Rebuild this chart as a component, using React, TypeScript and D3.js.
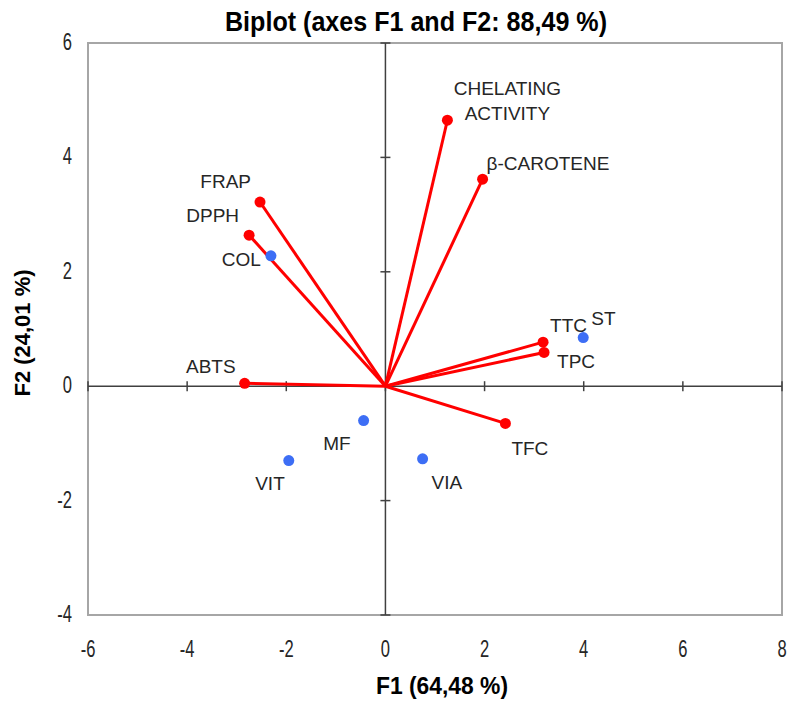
import React from "react";
import * as d3 from "d3";

// Active variables (loadings, drawn as vectors from the origin)
const variableNames = ["CHELATING ACTIVITY", "β-CAROTENE", "FRAP", "DPPH", "ABTS", "TTC", "TPC", "TFC"];
const variableF1 = [1.25, 1.96, -2.53, -2.75, -2.84, 3.18, 3.20, 2.42];
const variableF2 = [4.65, 3.62, 3.22, 2.64, 0.05, 0.77, 0.59, -0.65];

// Observations (scores, drawn as points)
const observationNames = ["COL", "ST", "MF", "VIT", "VIA"];
const observationF1 = [-2.31, 3.99, -0.44, -1.95, 0.75];
const observationF2 = [2.28, 0.85, -0.60, -1.30, -1.27];

const xTicks = [-6, -4, -2, 0, 2, 4, 6, 8];
const yTicks = [-4, -2, 0, 2, 4, 6];

// Label placement relative to each marker (px)
const labelPlacement: Record<string, { dx: number; dy: number; anchor: string }> = {
  "CHELATING ACTIVITY": { dx: 60, dy: 0, anchor: "middle" },
  "β-CAROTENE": { dx: 4, dy: -9, anchor: "start" },
  FRAP: { dx: -9, dy: -14, anchor: "end" },
  DPPH: { dx: -10, dy: -13, anchor: "end" },
  ABTS: { dx: -9, dy: -10, anchor: "end" },
  TTC: { dx: 7, dy: -10, anchor: "start" },
  TPC: { dx: 13, dy: 16, anchor: "start" },
  TFC: { dx: 6, dy: 32, anchor: "start" },
  COL: { dx: -10, dy: 10, anchor: "end" },
  ST: { dx: 8, dy: -13, anchor: "start" },
  MF: { dx: -13, dy: 29, anchor: "end" },
  VIT: { dx: -4, dy: 29, anchor: "end" },
  VIA: { dx: 9, dy: 30, anchor: "start" },
};

const W = 790;
const H = 702;
const left = 88;
const right = 782;
const top = 43;
const bottom = 615;

const x = d3.scaleLinear().domain([-6, 8]).range([left, right]);
const y = d3.scaleLinear().domain([-4, 6]).range([bottom, top]);

const RED = "#ff0000";
const BLUE = "#3d6ef5";
const TEXT = "#262626";
const FONT = "'Liberation Sans', Arial, sans-serif";

function Label({ name, px, py }: { name: string; px: number; py: number }) {
  const p = labelPlacement[name];
  const lines = name === "CHELATING ACTIVITY" ? ["CHELATING", "ACTIVITY"] : [name];
  return (
    <text
      x={px + p.dx}
      y={py + p.dy}
      textAnchor={p.anchor}
      fontFamily={FONT}
      fontSize={19}
      fill={TEXT}
    >
      {lines.map((l, i) => (
        <tspan key={l} x={px + p.dx} dy={i === 0 ? -(lines.length - 1) * 25 : 25}>
          {l}
        </tspan>
      ))}
    </text>
  );
}

export default function App() {
  const x0 = x(0);
  const y0 = y(0);
  const vars = variableNames.map((n, i) => ({ name: n, f1: variableF1[i], f2: variableF2[i] }));
  const obs = observationNames.map((n, i) => ({ name: n, f1: observationF1[i], f2: observationF2[i] }));

  return (
    <svg
      width={W}
      height={H}
      viewBox={`0 0 ${W} ${H}`}
      style={{ position: "absolute", left: 0, top: 0, background: "#fff" }}
    >
      {/* title */}
      <text
        x={416}
        y={31}
        textAnchor="middle"
        fontFamily={FONT}
        fontWeight="bold"
        fontSize={27}
        textLength={382}
        lengthAdjust="spacingAndGlyphs"
        fill="#000"
      >
        Biplot (axes F1 and F2: 88,49 %)
      </text>

      {/* plot frame */}
      <rect
        x={left}
        y={top}
        width={right - left}
        height={bottom - top}
        fill="none"
        stroke="#a6a6a6"
        strokeWidth={2}
      />

      {/* zero axes with tick marks */}
      <line x1={left} x2={right} y1={y0} y2={y0} stroke="#404040" strokeWidth={1.5} />
      <line x1={x0} x2={x0} y1={top} y2={bottom} stroke="#404040" strokeWidth={1.5} />
      {xTicks.map((t) => (
        <line key={"xt" + t} x1={x(t)} x2={x(t)} y1={y0 - 5} y2={y0 + 5} stroke="#404040" strokeWidth={1.5} />
      ))}
      {yTicks.map((t) => (
        <line key={"yt" + t} x1={x0 - 5} x2={x0 + 5} y1={y(t)} y2={y(t)} stroke="#404040" strokeWidth={1.5} />
      ))}

      {/* tick labels */}
      {xTicks.map((t) => (
        <g key={"xl" + t} transform={`translate(${x(t)},${bottom + 42}) scale(0.72,1)`}>
          <text textAnchor="middle" fontFamily={FONT} fontSize={23} fill={TEXT}>
            {t}
          </text>
        </g>
      ))}
      {yTicks.map((t) => (
        <g key={"yl" + t} transform={`translate(72,${y(t) + 7}) scale(0.72,1)`}>
          <text textAnchor="end" fontFamily={FONT} fontSize={23} fill={TEXT}>
            {t}
          </text>
        </g>
      ))}

      {/* axis titles */}
      <text
        x={442}
        y={694}
        textAnchor="middle"
        fontFamily={FONT}
        fontWeight="bold"
        fontSize={23}
        textLength={132}
        lengthAdjust="spacingAndGlyphs"
        fill="#000"
      >
        F1 (64,48 %)
      </text>
      <text
        transform={`translate(30,333) rotate(-90)`}
        textAnchor="middle"
        fontFamily={FONT}
        fontWeight="bold"
        fontSize={22}
        textLength={127}
        lengthAdjust="spacingAndGlyphs"
        fill="#000"
      >
        F2 (24,01 %)
      </text>

      {/* variable vectors */}
      {vars.map((v) => (
        <g key={v.name}>
          <line x1={x0} y1={y0} x2={x(v.f1)} y2={y(v.f2)} stroke={RED} strokeWidth={3} />
          <circle cx={x(v.f1)} cy={y(v.f2)} r={5.5} fill={RED} />
        </g>
      ))}

      {/* observations */}
      {obs.map((o) => (
        <circle key={o.name} cx={x(o.f1)} cy={y(o.f2)} r={5.5} fill={BLUE} />
      ))}

      {/* labels */}
      {vars.map((v) => (
        <Label key={"l" + v.name} name={v.name} px={x(v.f1)} py={y(v.f2)} />
      ))}
      {obs.map((o) => (
        <Label key={"l" + o.name} name={o.name} px={x(o.f1)} py={y(o.f2)} />
      ))}
    </svg>
  );
}
